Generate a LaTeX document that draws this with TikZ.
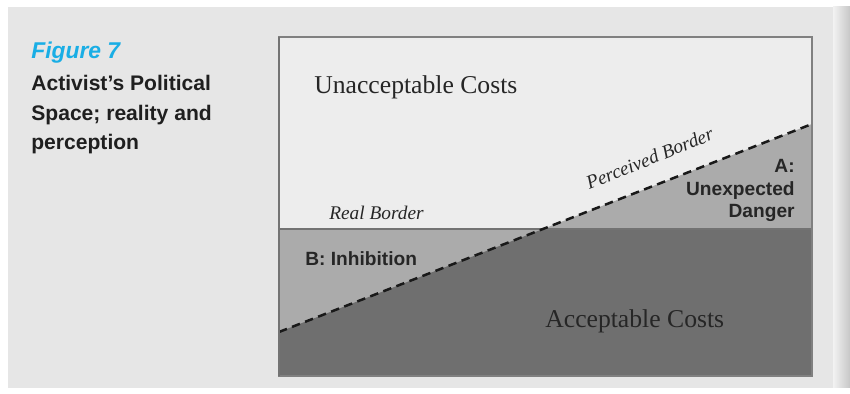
\documentclass[tikz,border=0pt]{standalone}
\usepackage{fontspec}
\setmainfont{Liberation Serif}
\setsansfont{Liberation Sans}
\usepackage{tikz}
\usetikzlibrary{calc}
\definecolor{figblue}{HTML}{1AAEE5}
\definecolor{panelgray}{HTML}{E6E6E6}
\definecolor{upperfill}{HTML}{EDEDED}
\definecolor{midfill}{HTML}{ABABAB}
\definecolor{lowfill}{HTML}{6F6F6F}
\tikzset{
	sflabel/.style={font=\sffamily\bfseries\fontsize{10.9}{13}\selectfont, color=black!85, inner sep=0},
	serlabel/.style={font=\fontsize{14.6}{17}\selectfont, color=black!85, inner sep=0},
	itlabel/.style={font=\itshape\fontsize{11}{13}\selectfont, color=black!85, inner sep=0}
}

\begin{document}
\begin{tikzpicture}[x=0.02cm, y=-0.02cm]
			%%%%% START %%%%%
			\useasboundingbox (0, 0) rectangle (850, 394);
			
			\fill[white] (0, 0) rectangle (850, 394);
			\fill[panelgray] (8, 7) rectangle (833, 388);
			\shade[left color=white!95!black, right color=black!22] (833, 7) rectangle (850, 388);
			
			\node[anchor=base west, inner sep=0, color=figblue, font=\sffamily\bfseries\itshape\fontsize{13}{15}\selectfont] (figtitle) at (31, 59) {Figure 7};
			\node[anchor=base west, inner sep=0, align=left, color=black!88, font=\sffamily\bfseries\fontsize{12}{17}\selectfont] (figcaption) at (31, 150) {Activist’s Political\\Space; reality and\\perception};
			
			\coordinate (bnw) at (279, 37);
			\coordinate (bse) at (812, 376);
			\coordinate (bsw) at (279, 376);
			\coordinate (rl) at (279, 229);
			\coordinate (rr) at (812, 229);
			\coordinate (pl) at (279, 332);
			\coordinate (pr) at (812, 124);
			\coordinate (cross) at (543, 229);
			
			\fill[upperfill] (bnw) rectangle (bse);
			\fill[midfill] (rl) rectangle (bse);
			\fill[midfill] (cross) -- (pr) -- (rr) -- cycle;
			\fill[lowfill] (pl) -- (cross) -- (rr) -- (bse) -- (bsw) -- cycle;
			
			\draw[line width=0.35mm, color=black!55] (rl) -- (rr);
			\draw[line width=0.5mm, color=black!90, dash pattern=on 1.7mm off 1.1mm] (pl) -- (pr);
			\draw[line width=0.3mm, color=black!50] (bnw) rectangle (bse);
			\draw[line width=0.5mm, color=black!55] (bnw) -- (bsw);
			
			\node[serlabel, anchor=base west] (unacc) at (314, 94) {Unacceptable Costs};
			\node[serlabel, anchor=base west] (acc) at (545, 328) {Acceptable Costs};
			\node[itlabel, anchor=base west] (realb) at (329, 220) {Real Border};
			\node[itlabel, anchor=base west, rotate=22] (percb) at (589, 190) {Perceived Border};
			\node[sflabel, anchor=base west] (inhib) at (305, 266) {B: Inhibition};
			\node[sflabel, anchor=base east, align=right] (danger) at (795, 218) {A:\\Unexpected\\Danger};
			
			%%%%% END %%%%%
		\end{tikzpicture}
\end{document}
